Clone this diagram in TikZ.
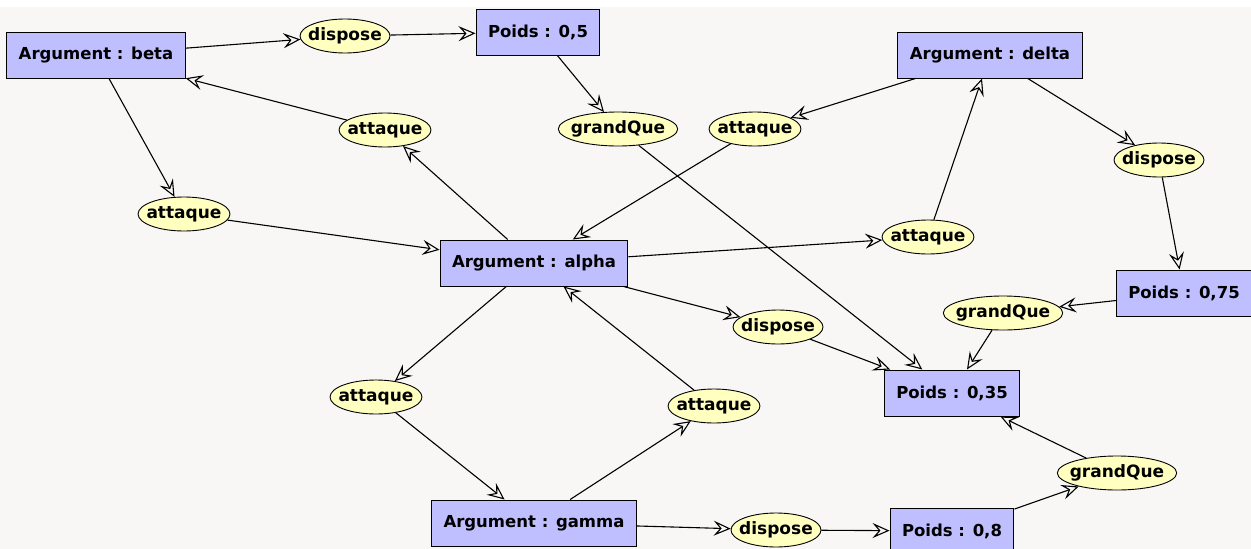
\documentclass[tikz,border=0pt]{standalone}
\usepackage{fontspec}
\setsansfont{DejaVu Sans}
\usepackage{tikz}
\usetikzlibrary{shapes.geometric, arrows.meta}

\definecolor{argblue}{RGB}{191,191,255}
\definecolor{relyellow}{RGB}{255,255,192}
\definecolor{paper}{RGB}{248,247,246}

\tikzset{
  arg/.style = {draw, line width = 1pt, fill = argblue, rectangle, minimum height = 46pt,
    inner xsep = 12pt, font = \sffamily\bfseries\fontsize{16.5}{19}\selectfont},
  rel/.style = {draw, line width = 0.9pt, fill = relyellow, ellipse, minimum height = 34pt,
    inner xsep = -5pt, inner ysep = 0pt, font = \sffamily\bfseries\fontsize{17}{19}\selectfont},
  link/.style = {-{Stealth[open, length = 17pt, width = 15pt, inset = 6.5pt]}, line width = 1.1pt}
}

\begin{document}
\begin{tikzpicture}[x = 1pt, y = -1pt]
\useasboundingbox (0, 0) rectangle (1251, 549);
\fill[white] (0, 0) rectangle (1251, 549);
\fill[paper] (0, 7) rectangle (1251, 549);

% arguments and weights
\node[arg] (beta) at (96, 55) {Argument : beta};
\node[arg] (delta) at (990, 55) {Argument : delta};
\node[arg] (alpha) at (534, 263) {Argument : alpha};
\node[arg] (gamma) at (534, 523) {Argument : gamma};
\node[arg] (p05) at (538, 32) {Poids : 0,5};
\node[arg] (p075) at (1184, 293) {Poids : 0,75};
\node[arg] (p035) at (952, 393) {Poids : 0,35};
\node[arg] (p08) at (952, 531) {Poids : 0,8};

% relations
\node[rel] (disB) at (345, 36) {dispose};
\node[rel] (disD) at (1159, 160) {dispose};
\node[rel] (disA) at (778, 327) {dispose};
\node[rel] (disG) at (776, 530) {dispose};
\node[rel] (gq1) at (618, 129) {grandQue};
\node[rel] (gq2) at (1003, 313) {grandQue};
\node[rel] (gq3) at (1117, 473) {grandQue};
\node[rel] (attUL) at (385, 130) {attaque};
\node[rel] (attUR) at (755, 129) {attaque};
\node[rel] (attL) at (184, 214) {attaque};
\node[rel] (attR) at (928, 237) {attaque};
\node[rel] (attLL) at (376, 397) {attaque};
\node[rel] (attLR) at (714, 406) {attaque};

% edges
\draw[link] (beta) -- (disB);
\draw[link] (disB) -- (p05);
\draw[link] (p05) -- (gq1);
\draw[link] (gq1) -- (p035);
\draw[link] (beta) -- (attL);
\draw[link] (attL) -- (alpha);
\draw[link] (alpha) -- (attUL);
\draw[link] (attUL) -- (beta);
\draw[link] (delta) -- (attUR);
\draw[link] (attUR) -- (alpha);
\draw[link] (alpha) -- (attR);
\draw[link] (attR) -- (delta);
\draw[link] (delta) -- (disD);
\draw[link] (disD) -- (p075);
\draw[link] (p075) -- (gq2);
\draw[link] (gq2) -- (p035);
\draw[link] (alpha) -- (disA);
\draw[link] (disA) -- (p035);
\draw[link] (alpha) -- (attLL);
\draw[link] (attLL) -- (gamma);
\draw[link] (gamma) -- (attLR);
\draw[link] (attLR) -- (alpha);
\draw[link] (gamma) -- (disG);
\draw[link] (disG) -- (p08);
\draw[link] (p08) -- (gq3);
\draw[link] (gq3) -- (p035);
\end{tikzpicture}
\end{document}
